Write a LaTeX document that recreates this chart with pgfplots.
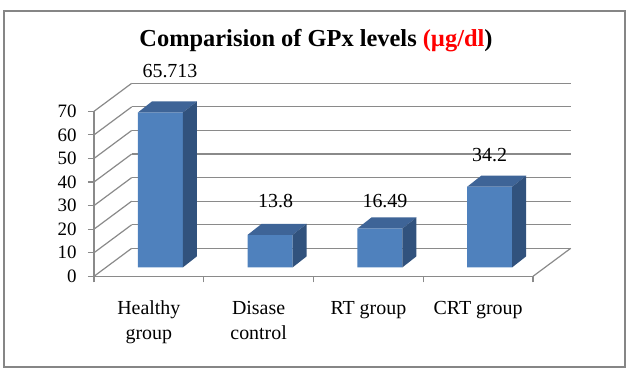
\documentclass[border=0pt]{standalone}
\usepackage{pgfplots}
\pgfplotsset{compat=1.18}
\usepackage{pgfplotstable}
\usepackage{fontspec}
\setmainfont{Liberation Serif}
\definecolor{barfront}{HTML}{4F81BD}
\definecolor{bartop}{HTML}{3E6497}
\definecolor{barside}{HTML}{31527D}
\definecolor{gridc}{HTML}{8A8A8A}
\definecolor{framec}{HTML}{868686}

\pgfplotstableread{
x v lab ldx ldy
0 65.713 65.713 21.1 50.4
1 13.8 13.8 16.9 42.8
2 16.49 16.49 16.6 36.4
3 34.2 34.2 11.4 40.7
}\gpx

\pgfdeclareplotmark{bar3d}{%
  \pgfmathsetmacro\hh{\barv*2.357}%
  \pgfsetfillcolor{bartop}%
  \pgfpathmoveto{\pgfpoint{-10.9bp}{9bp}}%
  \pgfpathlineto{\pgfpoint{34.1bp}{9bp}}%
  \pgfpathlineto{\pgfpoint{48.1bp}{20bp}}%
  \pgfpathlineto{\pgfpoint{3.1bp}{20bp}}%
  \pgfpathclose
  \pgfusepath{fill}%
  \pgfsetfillcolor{barside}%
  \pgfpathmoveto{\pgfpoint{34.1bp}{9bp}}%
  \pgfpathlineto{\pgfpoint{48.1bp}{20bp}}%
  \pgfpathlineto{\pgfpoint{48.1bp}{20bp-\hh bp}}%
  \pgfpathlineto{\pgfpoint{34.1bp}{9bp-\hh bp}}%
  \pgfpathclose
  \pgfusepath{fill}%
}

\begin{document}
\begin{tikzpicture}[x=1bp,y=1bp]
\begin{axis}[
  x=109.75bp, y=2.357bp,
  xmin=-0.5, xmax=3.5, ymin=0, ymax=70,
  enlargelimits=false, clip=false,
  axis x line*=bottom, axis y line*=left,
  axis line style={gridc, line width=1.2bp},
  xtick={-0.5,0.5,1.5,2.5,3.5}, xticklabels={},
  extra x ticks={0,1,2,3},
  extra x tick labels={{Healthy\\group},{Disase\\control},{RT group},{CRT group}},
  extra x tick style={major tick length=0pt},
  ytick={0,10,...,70},
  tick align=outside, major tick length=6bp,
  tick style={gridc, line width=1.2bp},
  xticklabel style={font=\fontsize{20}{25}\selectfont, align=center, anchor=north, inner sep=0pt, yshift=-24.5bp},
  yticklabel style={font=\fontsize{19}{21}\selectfont, anchor=east, xshift=-8bp},
  /pgf/number format/assume math mode=true,
]
\coordinate (O) at (axis cs:-0.5,0);
\pgfplotsinvokeforeach{0,10,...,70}{
  \draw[gridc, line width=1.2bp] ([shift={(37.7bp,28bp)}]axis cs:-0.5,#1) -- ([shift={(37.7bp,28bp)}]axis cs:3.5,#1);
  \draw[gridc, line width=1.2bp] (axis cs:-0.5,#1) -- ([shift={(37.7bp,28bp)}]axis cs:-0.5,#1);
}
\draw[gridc, line width=1.2bp] (axis cs:3.5,0) -- ([shift={(37.7bp,28bp)}]axis cs:3.5,0);
\addplot[ybar, bar width=45bp, bar shift=11.6bp, fill=barfront, draw=none, yshift=9bp]
  table[x=x, y=v] {\gpx};
\addplot[only marks, mark=bar3d,
  visualization depends on={rawy \as \barv},
  visualization depends on={\thisrow{ldx} \as \ldx},
  visualization depends on={\thisrow{ldy} \as \ldy},
  nodes near coords, point meta=explicit symbolic,
  every node near coord/.append style={anchor=center, xshift=\ldx bp, yshift=\ldy bp,
    font=\fontsize{20}{24}\selectfont, text=black},
] table[x=x, y=v, meta=lab] {\gpx};
\end{axis}
\path ([shift={(-94,-94.7)}]O) rectangle ([shift={(538,276.3)}]O);
\draw[framec, line width=1.8bp] ([shift={(-90,-90.7)}]O) rectangle ([shift={(531,265.3)}]O);
\node[anchor=base, font=\fontsize{24.5}{28}\selectfont\bfseries] at ([shift={(222,230.3)}]O)
  {Comparision of GPx levels \textcolor{red}{(µg/dl})};
\end{tikzpicture}
\end{document}
